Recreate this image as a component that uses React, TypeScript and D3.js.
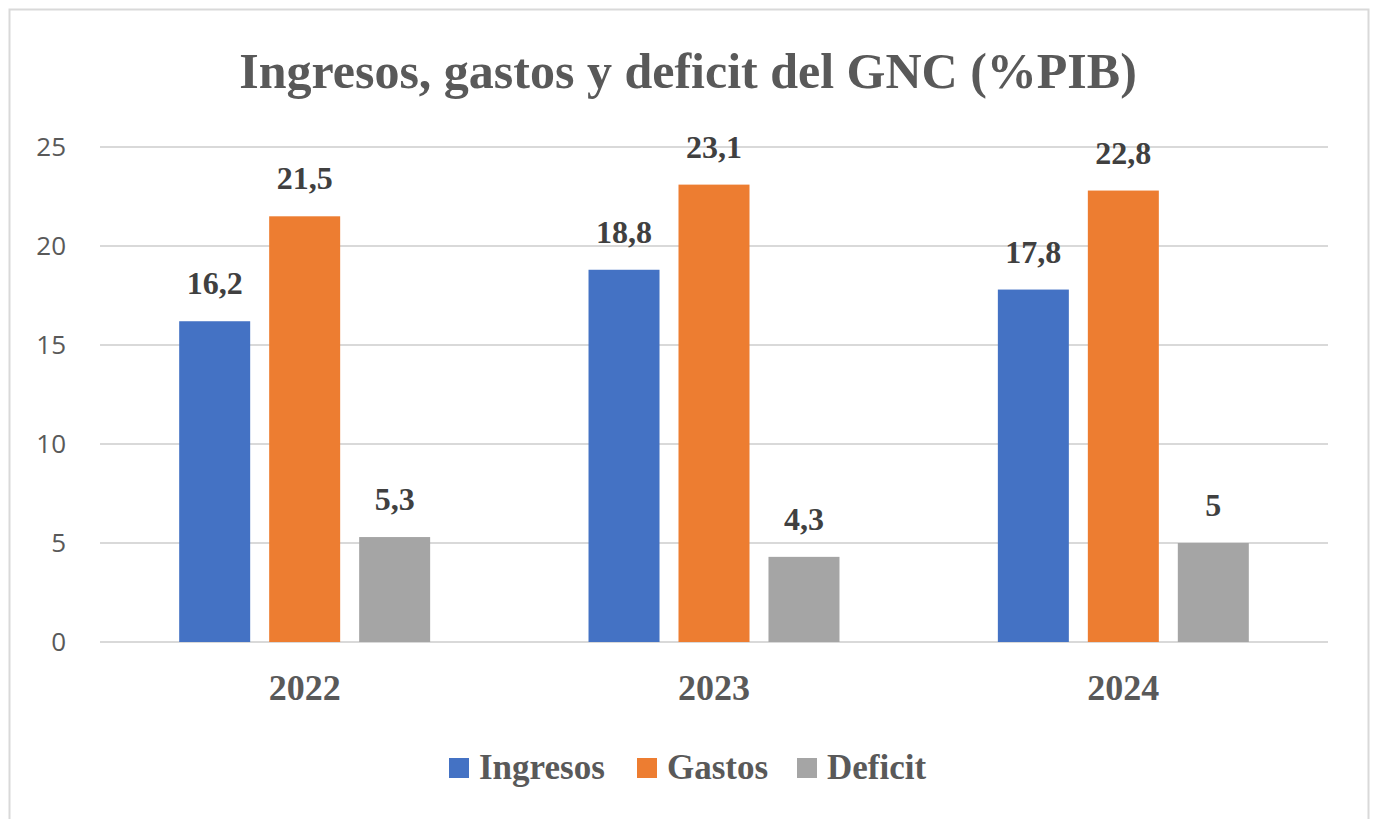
import React from "react";
import * as d3 from "d3";

const YEARS = ["2022", "2023", "2024"];
const SERIES = ["Ingresos", "Gastos", "Deficit"];
const INGRESOS = [16.2, 18.8, 17.8];
const GASTOS = [21.5, 23.1, 22.8];
const DEFICIT = [5.3, 4.3, 5];
const Y_TICKS = [0, 5, 10, 15, 20, 25];

const COLORS: Record<string, string> = {
  Ingresos: "#4472C4",
  Gastos: "#ED7D31",
  Deficit: "#A5A5A5",
};

const W = 1375;
const H = 819;
const PLOT = { left: 100, right: 1328, top: 147, bottom: 642 };
const SERIF = "'Liberation Serif', 'Times New Roman', serif";
const SANS = "'Open Sans', 'Noto Sans', sans-serif";

const fmt = (v: number) => String(v).replace(".", ",");

export default function App() {
  const values: Record<string, number[]> = {
    Ingresos: INGRESOS,
    Gastos: GASTOS,
    Deficit: DEFICIT,
  };

  const x0 = d3.scaleBand().domain(YEARS).range([PLOT.left, PLOT.right]).padding(0);
  const x1 = d3
    .scaleBand()
    .domain(SERIES)
    .range([0, x0.bandwidth()])
    .paddingInner(0.211)
    .paddingOuter(0.88);
  const y = d3.scaleLinear().domain([0, 25]).range([PLOT.bottom, PLOT.top]);

  // legend layout
  const legendItems = [
    { key: "Ingresos", x: 449 },
    { key: "Gastos", x: 637 },
    { key: "Deficit", x: 797 },
  ];

  return (
    <svg
      width={W}
      height={H}
      style={{ position: "absolute", left: 0, top: 0, background: "#fff" }}
    >
      {/* frame */}
      <rect x={9.5} y={9.5} width={1359} height={820} fill="#fff" stroke="#D9D9D9" strokeWidth={2} />

      {/* title */}
      <text
        x={688}
        y={88}
        textAnchor="middle"
        fontFamily={SERIF}
        fontWeight={700}
        fontSize={50}
        fill="#595959"
      >
        Ingresos, gastos y deficit del GNC (%PIB)
      </text>

      {/* gridlines + y labels */}
      {Y_TICKS.map((t) => (
        <g key={t}>
          <line
            x1={PLOT.left}
            x2={PLOT.right}
            y1={y(t)}
            y2={y(t)}
            stroke="#D9D9D9"
            strokeWidth={2}
          />
          <text
            x={66}
            y={y(t)}
            dy="0.36em"
            textAnchor="end"
            fontFamily={SANS}
            fontSize={26}
            fill="#595959"
          >
            {t}
          </text>
        </g>
      ))}

      {/* bars */}
      {YEARS.map((yr, i) => (
        <g key={yr} transform={`translate(${x0(yr)},0)`}>
          {SERIES.map((s) => {
            const v = values[s][i];
            const bx = x1(s)!;
            return (
              <g key={s}>
                <rect
                  x={bx}
                  y={y(v)}
                  width={x1.bandwidth()}
                  height={y(0) - y(v)}
                  fill={COLORS[s]}
                />
                <text
                  x={bx + x1.bandwidth() / 2}
                  y={y(v) - 27}
                  textAnchor="middle"
                  fontFamily={SERIF}
                  fontWeight={700}
                  fontSize={32}
                  fill="#404040"
                >
                  {fmt(v)}
                </text>
              </g>
            );
          })}
          <text
            x={x0.bandwidth() / 2}
            y={700}
            textAnchor="middle"
            fontFamily={SERIF}
            fontWeight={700}
            fontSize={36}
            fill="#595959"
          >
            {yr}
          </text>
        </g>
      ))}

      {/* legend */}
      {legendItems.map((it) => (
        <g key={it.key}>
          <rect x={it.x} y={758} width={20} height={20} fill={COLORS[it.key]} />
          <text
            x={it.x + 30}
            y={779}
            fontFamily={SERIF}
            fontWeight={700}
            fontSize={35}
            fill="#595959"
          >
            {it.key}
          </text>
        </g>
      ))}
    </svg>
  );
}
